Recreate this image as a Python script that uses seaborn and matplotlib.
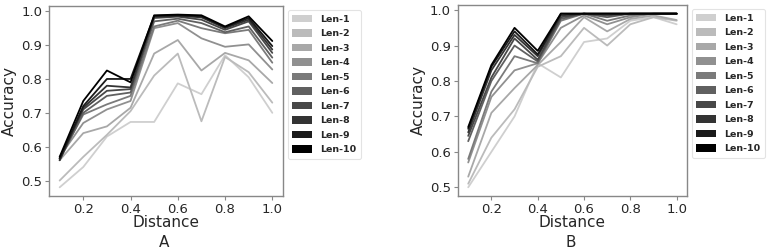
import numpy as np
import pandas as pd
import matplotlib
matplotlib.use("Agg")
import matplotlib.pyplot as plt
from matplotlib.patches import Patch
import seaborn as sns

distance = [0.1, 0.2, 0.3, 0.4, 0.5, 0.6, 0.7, 0.8, 0.9, 1.0]
series_names = ["Len-1", "Len-2", "Len-3", "Len-4", "Len-5",
                "Len-6", "Len-7", "Len-8", "Len-9", "Len-10"]

# Panel A
a_len1 = [0.48, 0.54, 0.63, 0.673, 0.673, 0.787, 0.755, 0.870, 0.805, 0.700]
a_len2 = [0.50, 0.57, 0.635, 0.705, 0.810, 0.875, 0.675, 0.865, 0.820, 0.730]
a_len3 = [0.56, 0.64, 0.66, 0.715, 0.875, 0.915, 0.825, 0.877, 0.855, 0.788]
a_len4 = [0.57, 0.67, 0.71, 0.735, 0.950, 0.965, 0.920, 0.895, 0.902, 0.828]
a_len5 = [0.565, 0.695, 0.725, 0.750, 0.955, 0.972, 0.950, 0.935, 0.945, 0.848]
a_len6 = [0.56, 0.700, 0.750, 0.760, 0.970, 0.978, 0.965, 0.938, 0.955, 0.863]
a_len7 = [0.565, 0.710, 0.765, 0.770, 0.980, 0.984, 0.975, 0.945, 0.970, 0.877]
a_len8 = [0.56, 0.715, 0.780, 0.775, 0.984, 0.986, 0.982, 0.950, 0.975, 0.887]
a_len9 = [0.565, 0.720, 0.800, 0.800, 0.986, 0.988, 0.985, 0.953, 0.980, 0.897]
a_len10 = [0.57, 0.735, 0.825, 0.790, 0.988, 0.990, 0.988, 0.955, 0.985, 0.912]

# Panel B
b_len1 = [0.50, 0.60, 0.70, 0.850, 0.810, 0.910, 0.920, 0.970, 0.980, 0.960]
b_len2 = [0.51, 0.64, 0.72, 0.840, 0.870, 0.950, 0.900, 0.960, 0.980, 0.970]
b_len3 = [0.53, 0.71, 0.78, 0.845, 0.910, 0.980, 0.940, 0.975, 0.985, 0.972]
b_len4 = [0.57, 0.755, 0.83, 0.850, 0.950, 0.985, 0.960, 0.980, 0.990, 0.990]
b_len5 = [0.58, 0.770, 0.87, 0.850, 0.970, 0.990, 0.970, 0.985, 0.990, 0.990]
b_len6 = [0.63, 0.800, 0.90, 0.855, 0.975, 0.990, 0.980, 0.990, 0.990, 0.990]
b_len7 = [0.645, 0.810, 0.92, 0.860, 0.980, 0.990, 0.985, 0.990, 0.990, 0.990]
b_len8 = [0.655, 0.830, 0.93, 0.870, 0.985, 0.990, 0.990, 0.990, 0.990, 0.990]
b_len9 = [0.665, 0.840, 0.94, 0.875, 0.990, 0.990, 0.990, 0.990, 0.990, 0.990]
b_len10 = [0.67, 0.845, 0.95, 0.885, 0.990, 0.990, 0.990, 0.990, 0.990, 0.990]

panel_a = [a_len1, a_len2, a_len3, a_len4, a_len5, a_len6, a_len7, a_len8, a_len9, a_len10]
panel_b = [b_len1, b_len2, b_len3, b_len4, b_len5, b_len6, b_len7, b_len8, b_len9, b_len10]
panel_letters = ["A", "B"]

greys = ["#cfcfcf", "#bbbbbb", "#a8a8a8", "#909090", "#7a7a7a",
         "#606060", "#484848", "#333333", "#1a1a1a", "#000000"]


def to_long(panel):
    rows = []
    for name, vals in zip(series_names, panel):
        for d, v in zip(distance, vals):
            rows.append({"Distance": d, "Accuracy": v, "Length": name})
    return pd.DataFrame(rows)


sns.set_style("white")
plt.rcParams["font.family"] = ["DejaVu Sans"]

fig = plt.figure(figsize=(7.72, 2.49), dpi=100)
ax_a = fig.add_axes([0.0635, 0.213, 0.303, 0.763])
ax_b = fig.add_axes([0.593, 0.213, 0.297, 0.767])

for ax, panel, letter, lx in [(ax_a, panel_a, panel_letters[0], 0.212),
                              (ax_b, panel_b, panel_letters[1], 0.739)]:
    df = to_long(panel)
    sns.lineplot(data=df, x="Distance", y="Accuracy", hue="Length",
                 hue_order=series_names, palette=greys, linewidth=1.3,
                 ax=ax, legend=False)
    ax.set_xticks([0.2, 0.4, 0.6, 0.8, 1.0])
    ax.set_yticks([0.5, 0.6, 0.7, 0.8, 0.9, 1.0])
    ax.tick_params(axis="both", labelsize=9.5, length=3, color="#888888",
                   direction="out", bottom=True, left=True, pad=2)
    ax.set_xlabel("Distance", fontsize=11, labelpad=-1)
    ax.set_ylabel("Accuracy", fontsize=11, labelpad=3)
    for s in ax.spines.values():
        s.set_color("#888888")
        s.set_linewidth(1.0)
    handles = [Patch(facecolor=c, edgecolor="none", label=n) for c, n in zip(greys, series_names)]
    leg = ax.legend(handles=handles, loc="upper left", bbox_to_anchor=(1.02, 0.978),
                    prop={"weight": "bold", "size": 6.8}, frameon=True,
                    handlelength=2.1, handleheight=0.8, labelspacing=0.58,
                    borderpad=0.5, handletextpad=0.8, borderaxespad=0.0)
    leg.get_frame().set_edgecolor("#dddddd")
    leg.get_frame().set_linewidth(0.8)
    fig.text(lx, 0.025, letter, fontsize=11, ha="center", va="center")

fig.savefig("out.png", dpi=100)
